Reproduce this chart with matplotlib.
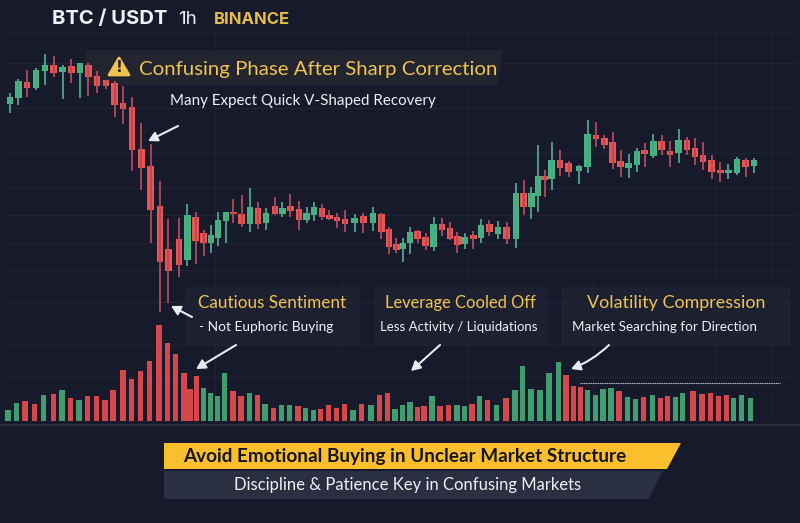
import matplotlib
matplotlib.use("Agg")
import matplotlib.pyplot as plt
from matplotlib.patches import Polygon

# hourly candles: time axis runs 0-800, price axis 0-523
candle_time = [
    10, 18.3, 27, 36, 45, 53.7, 62.7, 71.3, 80, 88.3, 97, 106, 114.7, 123, 132, 141.3,
    150.7, 160, 168.3, 179, 187.3, 195.7, 203.7, 211, 218, 226, 233.3, 241.7, 250, 258, 266,
    275, 282.3, 290.3, 299, 306.7, 314, 322, 329.3, 337, 345, 354.7, 363.3, 373, 381.3, 389,
    396.3, 403, 410, 417.7, 425.7, 433.7, 442, 450, 457.3, 464.7, 473.3, 481, 489.3, 498,
    506.7, 516, 523.7, 531.3, 538, 544.7, 551.7, 560, 568.7, 579, 587.7, 596, 604.3, 612.7,
    620.7, 628.7, 637, 644.7, 653.3, 661.7, 670, 678.7, 687, 695, 703, 711.7, 720.3, 728.3,
    737, 745.7, 754,
]
candle_open = [
    419, 425.3, 440.7, 434.7, 452.3, 458, 450.7, 457.3, 450.3, 458, 447, 442.7, 439.7, 419.7,
    415.7, 374, 356.7, 317, 273.7, 284.3, 263, 306.3, 290.3, 279.7, 284.7, 302.3, 311, 309,
    299, 315.3, 300.3, 317, 309, 316.7, 314.3, 303, 308.3, 315.3, 308, 306, 304, 299.7, 307,
    300.3, 309.3, 293.7, 279, 273.7, 279.7, 291.7, 286, 276.3, 299, 295, 287, 279, 288, 284.7,
    299, 289.3, 295.7, 284, 329.7, 316.3, 327, 347, 343.7, 362.7, 359.7, 351.7, 355.7, 388.3,
    385, 380.7, 362.3, 354.7, 357.7, 372.7, 367.3, 381.7, 372.3, 369.7, 382.7, 374.7, 367.7,
    362.7, 353.3, 349.7, 350.3, 363, 357,
]
candle_close = [
    426.3, 442, 434.7, 453, 458, 450.3, 456.3, 450.3, 459.7, 445.7, 437.3, 437, 418, 414, 373,
    355.3, 313, 261.3, 251.7, 258, 308, 282, 279.7, 288, 303, 310.7, 309, 298.7, 315.7, 299,
    310.3, 309, 315.3, 312.3, 303, 310, 316, 306.3, 303.7, 302.3, 298.7, 305.3, 299.7, 309.7,
    291.3, 275.7, 273, 279.7, 290.7, 283.7, 276.7, 299, 293, 284.3, 277.7, 286.3, 283.7, 298,
    290.7, 295.7, 284, 330.3, 316.3, 330.3, 347.3, 342.7, 363, 354.7, 350.7, 357, 389, 383.7,
    378, 360.3, 356.3, 360, 372, 369.3, 381.7, 373, 368, 382.7, 373, 366.3, 360.7, 350.7,
    349.7, 353, 364.3, 356.3, 362.7,
]
candle_high = [
    430.3, 444, 453, 454.7, 468.7, 467, 458, 463.7, 460.3, 459.7, 452.3, 443, 442.3, 437,
    426.3, 399.7, 379, 342, 304, 304.7, 318.7, 310.7, 293, 298, 310.7, 311.3, 323.7, 327.7,
    335.3, 320.7, 314.7, 326.3, 321.3, 329, 322, 316.3, 321.3, 318.7, 313, 309.7, 313, 308.7,
    310.3, 316.3, 310.3, 296.3, 284.7, 284.7, 296.3, 293, 289.7, 306.3, 304.7, 301.3, 291.3,
    289.7, 292, 304, 303, 302.3, 301.3, 339.7, 343, 335.7, 378, 353, 380.7, 373, 362.3, 358,
    403, 400.7, 388, 391.3, 373, 368.7, 375.3, 380.3, 389, 388, 382.3, 393.7, 385.7, 384.7,
    380.7, 368, 360.7, 359, 365.7, 365.3, 364.7,
]
candle_low = [
    410.3, 418, 425.7, 433, 438, 446.3, 423.7, 439.7, 424.7, 427, 429.7, 434, 405.7, 398.7,
    352, 333, 280.3, 211.3, 219.7, 245.7, 257, 259, 267, 270.3, 277, 279.7, 300.3, 295.7,
    291.3, 294, 293, 308, 305.7, 306.3, 293, 300.3, 302, 303, 303, 295.3, 291.3, 290.7, 289.7,
    292, 284, 269, 270.3, 261.3, 269, 279.7, 273, 272.3, 287, 283, 269.7, 273.7, 274, 279.7,
    287, 284.3, 279, 275.3, 308, 303.7, 311.3, 326.3, 333, 347, 346.3, 339, 350.3, 376.3, 374,
    353.7, 346.3, 344.7, 351.3, 355.7, 365.3, 368, 356.3, 359.7, 368, 358, 353, 344, 341.3,
    343.7, 348.3, 346.3, 349.7,
]

vol_time = [
    8, 16.7, 25, 34.3, 43.3, 53.3, 62, 70.7, 79, 87.3, 96.3, 105, 113, 123, 131.7, 140.7,
    149.7, 159, 167.3, 175.3, 184, 190, 196.7, 203.3, 210.7, 217.3, 224.3, 233, 241, 249.7,
    257.7, 265, 273.3, 281.3, 289.7, 298, 305.7, 313.3, 320.7, 328.7, 336.7, 344.7, 353,
    361.7, 371, 379.3, 387.7, 395, 402.3, 410, 417.3, 424, 432, 440, 448.3, 457, 464.3, 472,
    479.7, 487.7, 496.7, 506, 515, 522.3, 531, 540, 549, 558.3, 566, 573.7, 580.3, 587.7,
    595.7, 603, 611, 619, 627.7, 635.3, 643.7, 652.3, 660.3, 667.3, 675.3, 682.7, 693, 702,
    710.7, 718.3, 726.7, 733.7, 741.7, 750.3,
]
vol_size = [
    10.7, 17.3, 19.7, 16.7, 25.3, 26.3, 30.7, 22.3, 20.7, 24.3, 25, 20.3, 31, 50.7, 41.3,
    49.7, 59.7, 96, 77.3, 66.3, 48, 31.7, 44.3, 33, 28, 24.7, 47.3, 30, 24.7, 28, 25.7, 16.3,
    12.7, 15.3, 15.7, 15, 12.7, 10.7, 11.3, 15.3, 12.7, 16.3, 10.7, 16.3, 15.7, 25.7, 28, 12,
    16, 18.7, 13.7, 14.7, 24.7, 14.7, 16, 15.3, 14.7, 16.7, 24.3, 20.7, 15.3, 22.7, 30.7,
    54.7, 31.7, 30.3, 47.7, 58.3, 45.3, 35, 33.7, 31, 25.7, 31.3, 32.3, 29.7, 23.3, 22, 23.7,
    25.3, 22.7, 24.7, 23.7, 27.3, 29.7, 27, 27.7, 24.7, 25.7, 22.7, 25.7, 23,
]
vol_side = list(
    "ggrrgrgrgrrrrrrrrrrrrrrggggrrgrg"
    "rggrggrrrrgrgrrgggrrgrrggrgrgrggg"
    "gggrrrggggrggrgrrggrrrrrggg"
)

BG = "#161a2a"
GRID = "#212536"
RED = "#ee5350"
GREEN = "#43b581"
RED_WICK = "#b24a5c"
GREEN_WICK = "#4fa58a"
VOL_RED = "#d5474a"
VOL_GREEN = "#3f9d6f"
YELLOW = "#f0c44f"
WHITE = "#eef0f4"
HAND = ["Lato", "DejaVu Sans"]

fig = plt.figure(figsize=(8, 5.23), dpi=100, facecolor=BG)

# overlay axes in screen units, used for furniture and text
ax_bg = fig.add_axes([0, 0, 1, 1], zorder=1)
ax_bg.set_xlim(0, 800)
ax_bg.set_ylim(523, 0)
ax_bg.axis("off")

for y in [33, 63, 108, 153, 188, 215, 243, 270, 302, 345, 377]:
    ax_bg.plot([5, 795], [y, y], color=GRID, lw=0.8)
for x in [81, 215, 342, 468, 593, 715, 772]:
    ax_bg.plot([x, x], [30, 420], color=GRID, lw=0.7, alpha=0.7)
ax_bg.plot([0, 800], [425, 425], color="#2a3044", lw=1.4)

# translucent panels behind the headings
ax_bg.add_patch(Polygon([(86, 50), (503, 50), (497, 85), (86, 85)], closed=True,
                        fc="#22242e", ec="none"))
for x0, x1 in [(185, 360), (373, 548), (562, 790)]:
    ax_bg.add_patch(Polygon([(x0, 287), (x1, 287), (x1, 345), (x0, 345)], closed=True,
                            fc="#1d2030", ec="none"))

# price candles
ax = fig.add_axes([0, 0, 1, 1], zorder=2)
ax.set_xlim(0, 800)
ax.set_ylim(0, 523)
ax.axis("off")
up = [c >= o for o, c in zip(candle_open, candle_close)]
ax.vlines(candle_time, candle_low, candle_high,
          colors=[GREEN_WICK if u else RED_WICK for u in up], lw=1.3)
ax.bar(candle_time, [abs(c - o) for o, c in zip(candle_open, candle_close)],
       bottom=[min(o, c) for o, c in zip(candle_open, candle_close)], width=6.9,
       color=[GREEN if u else RED for u in up])

# volume sits on its own scale above the separator
ax_vol = fig.add_axes([0, (523 - 420.7) / 523, 1, 110 / 523], zorder=2)
ax_vol.set_xlim(0, 800)
ax_vol.set_ylim(0, 110)
ax_vol.axis("off")
ax_vol.bar(vol_time, vol_size, width=5.3,
           color=[VOL_GREEN if s == "g" else VOL_RED for s in vol_side])

# text, arrows and banners go on top
ax_top = fig.add_axes([0, 0, 1, 1], zorder=3)
ax_top.set_xlim(0, 800)
ax_top.set_ylim(523, 0)
ax_top.axis("off")


def label(x, y, s, color=WHITE, size=10.5, weight="normal", ha="left", family=None):
    ax_top.text(x, y, s, color=color, fontsize=size, fontweight=weight, ha=ha,
                va="center", family=family or HAND)


label(52, 19, "BTC / USDT", size=14.6, weight="bold", family="Inter")
label(178, 19.5, "1h", size=13.5, family="Inter")
label(214, 20, "BINANCE", color="#e6bd4a", size=12, weight="bold", family="Inter")

ax_top.add_patch(Polygon([(119, 58), (129, 75), (109, 75)], closed=True, fc=YELLOW,
                         ec=YELLOW, lw=2, joinstyle="round"))
ax_top.text(119, 67.5, "!", color="#22252f", fontsize=11, fontweight="bold",
            ha="center", va="center", family="DejaVu Sans")
label(139, 69, "Confusing Phase After Sharp Correction", color=YELLOW, size=14.7)
label(170, 101, "Many Expect Quick V-Shaped Recovery", size=10.9)

label(198, 303, "Cautious Sentiment", color=YELLOW, size=12.3)
label(199, 327, "- Not Euphoric Buying", size=9.9)
label(385, 303, "Leverage Cooled Off", color=YELLOW, size=11.9)
label(380, 327, "Less Activity / Liquidations", size=9.5)
label(587, 303, "Volatility Compression", color=YELLOW, size=12.9)
label(572, 327, "Market Searching for Direction", size=9.7)

for start, end, rad in [
    ((178, 126), (148, 141), 0),
    ((192, 317), (171, 306), 0),
    ((236, 345), (196, 369), 0),
    ((440, 345), (411, 371), 0),
    ((609, 345), (571, 369), -0.1),
]:
    ax_top.annotate("", xy=end, xytext=start, arrowprops=dict(
        arrowstyle="-|>,head_length=0.55,head_width=0.3", color="#e8eaf0", lw=1.5,
        shrinkA=0, shrinkB=0, connectionstyle=f"arc3,rad={rad}"))

ax_top.plot([580, 780], [383, 383], color="#c9ccd4", lw=0.8, ls=(0, (1, 0.6)))

ax_top.add_patch(Polygon([(164, 443), (681, 443), (667, 469), (164, 469)], closed=True,
                         fc="#fbbf2e", ec="none"))
ax_top.add_patch(Polygon([(164, 471), (663, 471), (649, 499), (164, 499)], closed=True,
                         fc="#2a2f42", ec="none"))
label(183, 456.5, "Avoid Emotional Buying in Unclear Market Structure", color="#15161c",
      size=13.6, weight="bold")
label(234, 485, "Discipline & Patience Key in Confusing Markets", size=12)

fig.savefig("out.png", dpi=100, facecolor=BG)
